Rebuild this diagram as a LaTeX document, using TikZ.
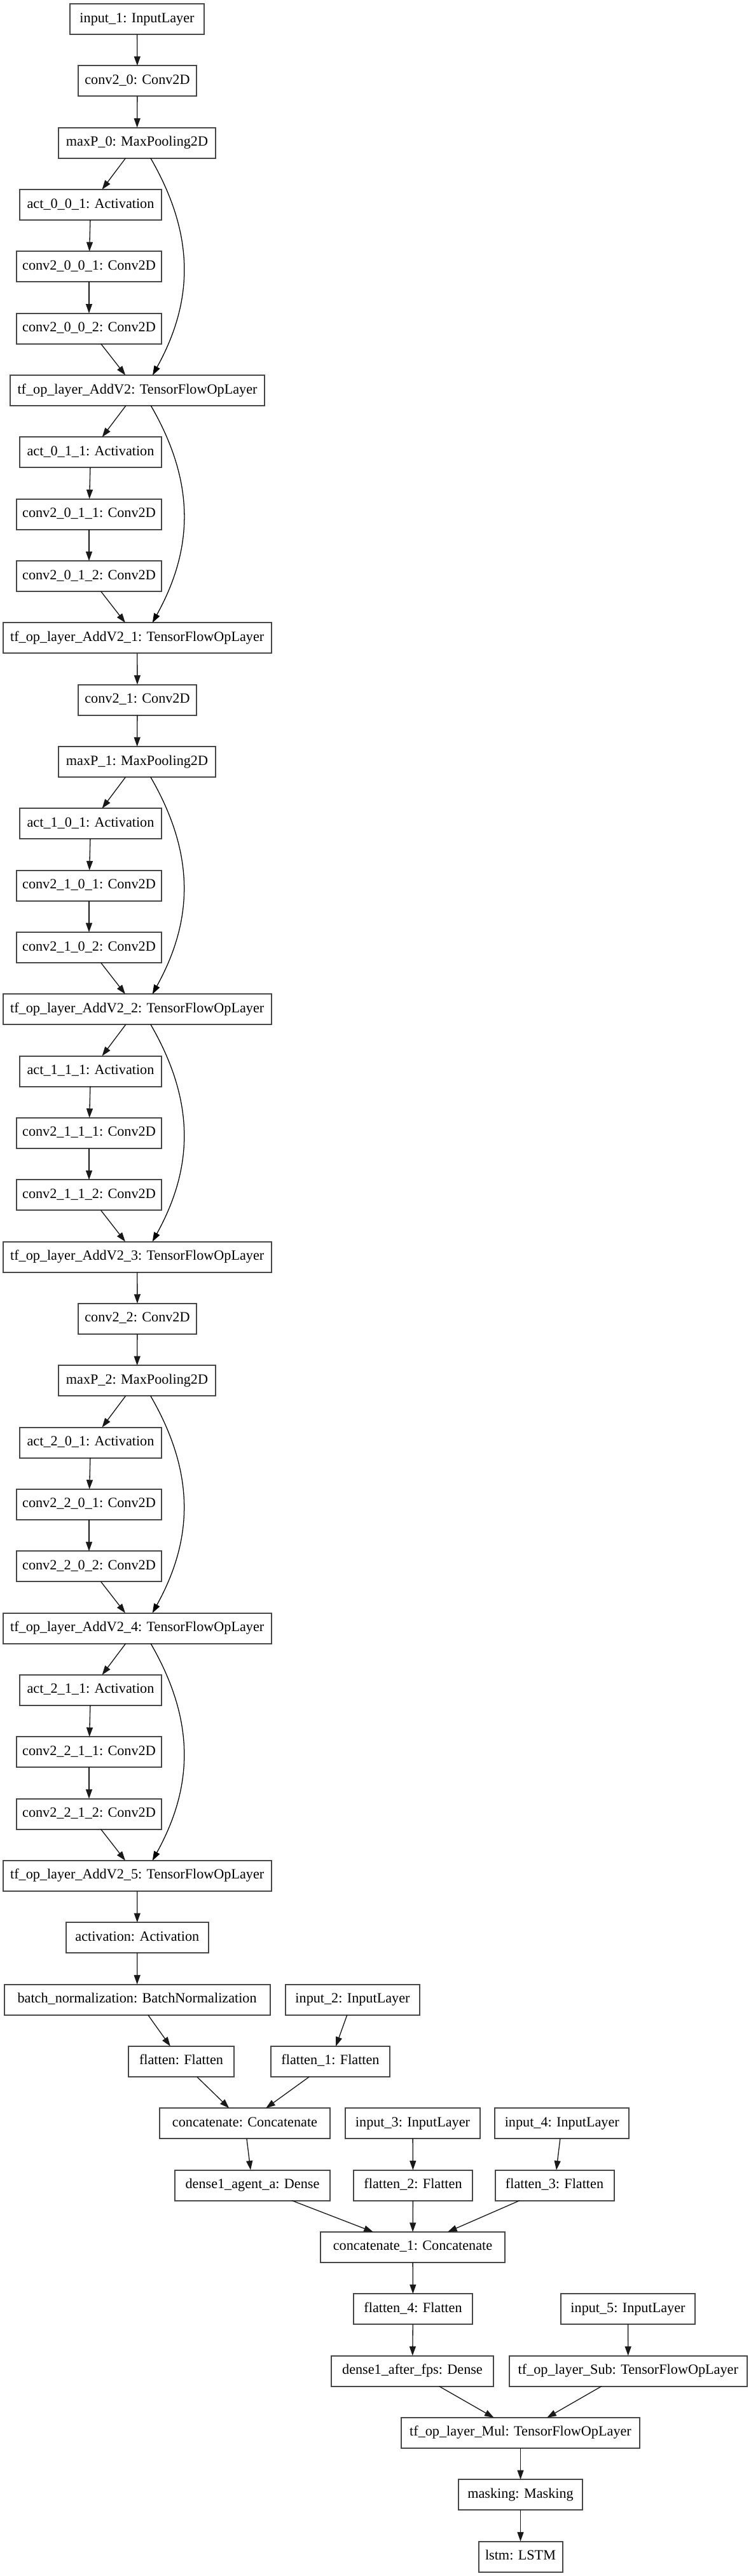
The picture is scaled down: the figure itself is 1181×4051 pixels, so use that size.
\documentclass[tikz,border=0pt]{standalone}
\usepackage{fontspec}
\setmainfont{Liberation Serif}
\usetikzlibrary{arrows.meta}
\begin{document}
\begin{tikzpicture}[x=0.75pt,y=-0.75pt,
  lay/.style={draw=black!72, line width=1.5pt, rectangle, minimum height=36pt,
    inner xsep=0pt, inner ysep=0pt, outer sep=0pt,
    font=\fontsize{16.65pt}{19pt}\selectfont, text=black,
    text height=11.5pt, text depth=4pt},
  bw/.style={minimum width={0.75pt*#1}},
  edge/.style={draw=black!90, line width=1pt, -{Triangle[length=11pt,width=7.5pt]}},
  skipedge/.style={draw=black, line width=0.95pt, -{Triangle[length=11pt,width=7.5pt]}}
]
\useasboundingbox (0,0) rectangle (1181,4051);
% ---------- block 0
\node[lay,bw=211] (in1) at (215.5,30) {input\_1: InputLayer};
\node[lay,bw=186] (c0) at (216,127.3) {conv2\_0: Conv2D};
\node[lay,bw=247] (mp0) at (215.5,224.7) {maxP\_0: MaxPooling2D};
\node[lay,bw=223] (a001) at (142.5,322) {act\_0\_0\_1: Activation};
\node[lay,bw=228] (c001) at (140,419.3) {conv2\_0\_0\_1: Conv2D};
\node[lay,bw=228] (c002) at (140,516.7) {conv2\_0\_0\_2: Conv2D};
\node[lay,bw=400] (ad0) at (216,614) {tf\_op\_layer\_AddV2: TensorFlowOpLayer};
\node[lay,bw=223] (a011) at (142.5,711.3) {act\_0\_1\_1: Activation};
\node[lay,bw=228] (c011) at (140,808.6) {conv2\_0\_1\_1: Conv2D};
\node[lay,bw=228] (c012) at (140,906) {conv2\_0\_1\_2: Conv2D};
\node[lay,bw=422] (ad1) at (215.7,1003.3) {tf\_op\_layer\_AddV2\_1: TensorFlowOpLayer};
% ---------- block 1
\node[lay,bw=186] (c1) at (216,1100.6) {conv2\_1: Conv2D};
\node[lay,bw=247] (mp1) at (215.5,1198) {maxP\_1: MaxPooling2D};
\node[lay,bw=223] (a101) at (142.5,1295.3) {act\_1\_0\_1: Activation};
\node[lay,bw=228] (c101) at (140,1392.6) {conv2\_1\_0\_1: Conv2D};
\node[lay,bw=228] (c102) at (140,1490) {conv2\_1\_0\_2: Conv2D};
\node[lay,bw=422] (ad2) at (215.7,1587.3) {tf\_op\_layer\_AddV2\_2: TensorFlowOpLayer};
\node[lay,bw=223] (a111) at (142.5,1684.6) {act\_1\_1\_1: Activation};
\node[lay,bw=228] (c111) at (140,1781.9) {conv2\_1\_1\_1: Conv2D};
\node[lay,bw=228] (c112) at (140,1879.3) {conv2\_1\_1\_2: Conv2D};
\node[lay,bw=422] (ad3) at (215.7,1976.6) {tf\_op\_layer\_AddV2\_3: TensorFlowOpLayer};
% ---------- block 2
\node[lay,bw=186] (c2) at (216,2073.9) {conv2\_2: Conv2D};
\node[lay,bw=247] (mp2) at (215.5,2171.3) {maxP\_2: MaxPooling2D};
\node[lay,bw=223] (a201) at (142.5,2268.6) {act\_2\_0\_1: Activation};
\node[lay,bw=228] (c201) at (140,2365.9) {conv2\_2\_0\_1: Conv2D};
\node[lay,bw=228] (c202) at (140,2463.3) {conv2\_2\_0\_2: Conv2D};
\node[lay,bw=422] (ad4) at (215.7,2560.6) {tf\_op\_layer\_AddV2\_4: TensorFlowOpLayer};
\node[lay,bw=223] (a211) at (142.5,2657.9) {act\_2\_1\_1: Activation};
\node[lay,bw=228] (c211) at (140,2755.2) {conv2\_2\_1\_1: Conv2D};
\node[lay,bw=228] (c212) at (140,2852.6) {conv2\_2\_1\_2: Conv2D};
\node[lay,bw=422] (ad5) at (215.7,2949.9) {tf\_op\_layer\_AddV2\_5: TensorFlowOpLayer};
% ---------- tail
\node[lay,bw=224] (act) at (215.8,3047.2) {activation: Activation};
\node[lay,bw=418] (bn) at (215.6,3144.6) {batch\_normalization: BatchNormalization};
\node[lay,bw=211] (in2) at (554.5,3144.6) {input\_2: InputLayer};
\node[lay,bw=166] (fl) at (285,3241.9) {flatten: Flatten};
\node[lay,bw=187] (fl1) at (519.5,3241.9) {flatten\_1: Flatten};
\node[lay,bw=268] (cat) at (385,3339.2) {concatenate: Concatenate};
\node[lay,bw=212] (in3) at (649,3339.2) {input\_3: InputLayer};
\node[lay,bw=211] (in4) at (883.8,3339.2) {input\_4: InputLayer};
\node[lay,bw=244] (dag) at (397,3436.6) {dense1\_agent\_a: Dense};
\node[lay,bw=187] (fl2) at (649.5,3436.6) {flatten\_2: Flatten};
\node[lay,bw=187] (fl3) at (872,3436.6) {flatten\_3: Flatten};
\node[lay,bw=290] (cat1) at (649,3533.9) {concatenate\_1: Concatenate};
\node[lay,bw=187] (fl4) at (649.5,3631.2) {flatten\_4: Flatten};
\node[lay,bw=211] (in5) at (987.5,3631.2) {input\_5: InputLayer};
\node[lay,bw=255] (daf) at (648.5,3728.5) {dense1\_after\_fps: Dense};
\node[lay,bw=374] (sub) at (987.8,3728.5) {tf\_op\_layer\_Sub: TensorFlowOpLayer};
\node[lay,bw=375] (mul) at (818.5,3825.9) {tf\_op\_layer\_Mul: TensorFlowOpLayer};
\node[lay,bw=195] (msk) at (818.5,3923.2) {masking: Masking};
\node[lay,bw=132] (lstm) at (818.5,4020.5) {lstm: LSTM};
% ---------- edges
\draw[edge] (in1) -- (c0);
\draw[edge] (c0) -- (mp0);
\draw[edge] (mp0) -- (a001);
\draw[edge] (a001) -- (c001);
\draw[edge] (c001) -- (c002);
\draw[edge] (c002) -- (ad0);
\draw[edge] (ad0) -- (a011);
\draw[edge] (a011) -- (c011);
\draw[edge] (c011) -- (c012);
\draw[edge] (c012) -- (ad1);
\draw[edge] (ad1) -- (c1);
\draw[edge] (c1) -- (mp1);
\draw[edge] (mp1) -- (a101);
\draw[edge] (a101) -- (c101);
\draw[edge] (c101) -- (c102);
\draw[edge] (c102) -- (ad2);
\draw[edge] (ad2) -- (a111);
\draw[edge] (a111) -- (c111);
\draw[edge] (c111) -- (c112);
\draw[edge] (c112) -- (ad3);
\draw[edge] (ad3) -- (c2);
\draw[edge] (c2) -- (mp2);
\draw[edge] (mp2) -- (a201);
\draw[edge] (a201) -- (c201);
\draw[edge] (c201) -- (c202);
\draw[edge] (c202) -- (ad4);
\draw[edge] (ad4) -- (a211);
\draw[edge] (a211) -- (c211);
\draw[edge] (c211) -- (c212);
\draw[edge] (c212) -- (ad5);
\draw[edge] (ad5) -- (act);
\draw[edge] (act) -- (bn);
\draw[edge] (bn) -- (fl);
\draw[edge] (in2) -- (fl1);
\draw[edge] (fl) -- (cat);
\draw[edge] (fl1) -- (cat);
\draw[edge] (cat) -- (dag);
\draw[edge] (in3) -- (fl2);
\draw[edge] (in4) -- (fl3);
\draw[edge] (dag) -- (cat1);
\draw[edge] (fl2) -- (cat1);
\draw[edge] (fl3) -- (cat1);
\draw[edge] (cat1) -- (fl4);
\draw[edge] (fl4) -- (daf);
\draw[edge] (in5) -- (sub);
\draw[edge] (daf) -- (mul);
\draw[edge] (sub) -- (mul);
\draw[edge] (mul) -- (msk);
\draw[edge] (msk) -- (lstm);
% ---------- skip connections
\draw[skipedge] ([xshift=16pt]mp0.south) .. controls +(68.8,119) and +(65.8,-119) .. ([xshift=18pt]ad0.north);
\draw[skipedge] ([xshift=16pt]ad0.south) .. controls +(68.8,119) and +(65.8,-119) .. ([xshift=18pt]ad1.north);
\draw[skipedge] ([xshift=16pt]mp1.south) .. controls +(68.8,119) and +(65.8,-119) .. ([xshift=18pt]ad2.north);
\draw[skipedge] ([xshift=16pt]ad2.south) .. controls +(68.8,119) and +(65.8,-119) .. ([xshift=18pt]ad3.north);
\draw[skipedge] ([xshift=16pt]mp2.south) .. controls +(68.8,119) and +(65.8,-119) .. ([xshift=18pt]ad4.north);
\draw[skipedge] ([xshift=16pt]ad4.south) .. controls +(68.8,119) and +(65.8,-119) .. ([xshift=18pt]ad5.north);
\end{tikzpicture}
\end{document}
